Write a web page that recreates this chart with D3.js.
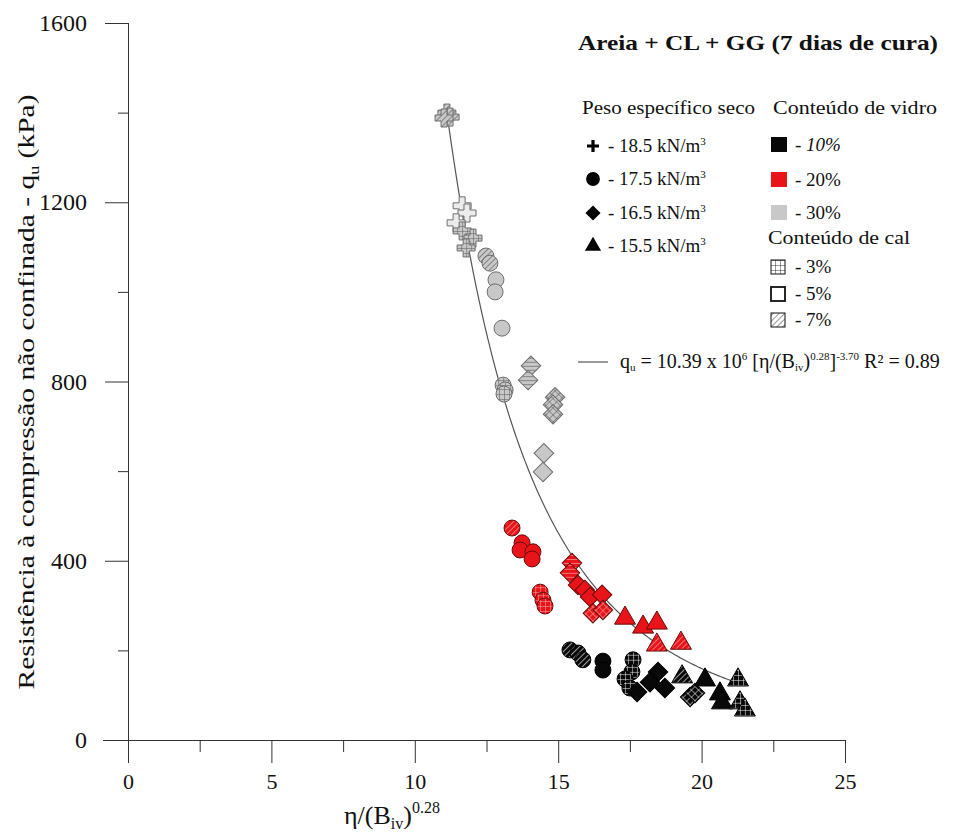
<html>
<head>
<meta charset="utf-8">
<title>qu x eta/Biv</title>
<script src="https://cdnjs.cloudflare.com/ajax/libs/d3/7.8.5/d3.min.js"></script>
<style>
  body { margin: 0; background: #fff; }
  svg text { font-family: "Liberation Serif", "Times New Roman", "DejaVu Serif", serif; }
</style>
</head>
<body>
<svg width="960" height="832"></svg>
<script>
// ticks
var xMajor = [0, 5, 10, 15, 20, 25];
var xMinor = [2.5, 7.5, 12.5, 17.5, 22.5];
var yMajor = [0, 400, 800, 1200, 1600];
var yMinor = [200, 600, 1000, 1400];

// fit: qu = A * x^B
var fitA = 10.39e6, fitB = -3.70;
var fitRange = [11.1, 21.5];

// points [eta/Biv^0.28, qu]  name = density_glass_lime
var cross30_7 = [[11.12, 1399], [11.23, 1390], [11.02, 1388]];
var cross30_5 = [[11.65, 1192], [11.82, 1176], [11.44, 1154]];
var cross30_3 = [[11.65, 1136], [12.03, 1120], [11.79, 1098]];

var circ30_7 = [[12.48, 1080], [12.62, 1064]];
var circ30_5 = [[12.83, 1027], [12.80, 1000], [13.04, 919]];
var circ30_3 = [[13.08, 792], [13.15, 781], [13.11, 772]];

var diam30_7 = [[14.05, 835], [13.95, 803]];
var diam30_3 = [[14.89, 765], [14.82, 748], [14.82, 727]];
var diam30_5 = [[14.50, 640], [14.47, 598]];

var circ20_7 = [[13.39, 473]];
var circ20_5 = [[13.74, 440], [13.67, 424], [14.12, 420], [14.09, 404]];
var circ20_3 = [[14.37, 330], [14.47, 312], [14.54, 299]];

var diam20_7 = [[15.48, 395], [15.41, 373]];
var diam20_5 = [[15.69, 346], [15.93, 335], [16.11, 319], [16.53, 324]];
var diam20_3 = [[16.21, 283], [16.56, 290]];

var tri20_5 = [[17.33, 272], [17.96, 252], [18.44, 261]];
var tri20_7 = [[18.44, 212], [19.28, 216]];

var circ10_7 = [[15.41, 201], [15.69, 194], [15.86, 179]];
var circ10_5 = [[16.56, 176], [16.56, 156]];
var circ10_3 = [[17.61, 179], [17.57, 152], [17.33, 136], [17.50, 116]];

var diam10_5 = [[18.48, 152], [18.20, 129], [18.72, 116], [17.75, 107]];
var diam10_3 = [[19.60, 96], [19.77, 105]];

var tri10_7 = [[19.32, 141]];
var tri10_5 = [[20.12, 134], [20.64, 103], [20.71, 83]];
var tri10_3 = [[21.27, 134], [21.34, 83], [21.51, 67]];

var series = [
  ["cross", "grey", "hatch", cross30_7], ["cross", "grey", "plain", cross30_5], ["cross", "grey", "grid", cross30_3],
  ["circle", "grey", "hatch", circ30_7], ["circle", "grey", "plain", circ30_5], ["circle", "grey", "grid", circ30_3],
  ["diamond", "grey", "hatch", diam30_7], ["diamond", "grey", "grid", diam30_3], ["diamond", "grey", "plain", diam30_5],
  ["circle", "red", "hatch", circ20_7], ["circle", "red", "plain", circ20_5], ["circle", "red", "grid", circ20_3],
  ["diamond", "red", "hatch", diam20_7], ["diamond", "red", "plain", diam20_5], ["diamond", "red", "grid", diam20_3],
  ["triangle", "red", "plain", tri20_5], ["triangle", "red", "hatch", tri20_7],
  ["circle", "black", "hatch", circ10_7], ["circle", "black", "plain", circ10_5], ["circle", "black", "grid", circ10_3],
  ["diamond", "black", "plain", diam10_5], ["diamond", "black", "grid", diam10_3],
  ["triangle", "black", "hatch", tri10_7], ["triangle", "black", "plain", tri10_5], ["triangle", "black", "grid", tri10_3]
];

var fills = { black: "#080808", red: "#e8141a", grey: "#c8c8c8" };
var strokes = { black: "#000", red: "#6a0a0a", grey: "#6e6e6e" };
var lines = { black: "#ffffff", red: "#ffb0b0", grey: "#555" };
var serif = "'Liberation Serif', 'Times New Roman', 'DejaVu Serif', serif";

var svg = d3.select("svg");
var x = d3.scaleLinear().domain([0, 25]).range([128, 845]);
var y = d3.scaleLinear().domain([0, 1600]).range([740, 23]);

// patterns
var defs = svg.append("defs");
Object.keys(fills).forEach(function(c) {
  var g = defs.append("pattern").attr("id", "grid-" + c)
    .attr("patternUnits", "userSpaceOnUse").attr("width", 5).attr("height", 5);
  g.append("rect").attr("width", 5).attr("height", 5).attr("fill", fills[c]);
  g.append("path").attr("d", "M0,0V5M0,0H5").attr("stroke", lines[c]).attr("stroke-width", 1);
  var h = defs.append("pattern").attr("id", "hatch-" + c)
    .attr("patternUnits", "userSpaceOnUse").attr("width", 4).attr("height", 4)
    .attr("patternTransform", "rotate(45)");
  h.append("rect").attr("width", 4).attr("height", 4).attr("fill", fills[c]);
  h.append("path").attr("d", "M0,0V4").attr("stroke", lines[c]).attr("stroke-width", 1.2);
});
var lg = defs.append("pattern").attr("id", "leg-grid")
  .attr("patternUnits", "userSpaceOnUse").attr("width", 5).attr("height", 5);
lg.append("rect").attr("width", 5).attr("height", 5).attr("fill", "#fff");
lg.append("path").attr("d", "M0,0V5M0,0H5").attr("stroke", "#333").attr("stroke-width", 1);
var lh = defs.append("pattern").attr("id", "leg-hatch")
  .attr("patternUnits", "userSpaceOnUse").attr("width", 4).attr("height", 4)
  .attr("patternTransform", "rotate(45)");
lh.append("rect").attr("width", 4).attr("height", 4).attr("fill", "#fff");
lh.append("path").attr("d", "M0,0V4").attr("stroke", "#333").attr("stroke-width", 1);

function fillOf(color, lime) {
  if (lime == "plain") return fills[color];
  return "url(#" + lime + "-" + color + ")";
}

function shapePath(shape, s) {
  if (shape == "circle") return d3.symbol().type(d3.symbolCircle).size(200 * s)();
  if (shape == "diamond") return d3.symbol().type(d3.symbolSquare).size(190 * s)();
  if (shape == "triangle") return d3.symbol().type(d3.symbolTriangle).size(190 * s)();
  // outlined plus
  var a = 9 * Math.sqrt(s), b = 3 * Math.sqrt(s);
  return "M" + (-b) + "," + (-a) + "H" + b + "V" + (-b) + "H" + a + "V" + b + "H" + b + "V" + a +
    "H" + (-b) + "V" + b + "H" + (-a) + "V" + (-b) + "H" + (-b) + "Z";
}

// axes
var axisG = svg.append("g").attr("stroke", "#333").attr("fill", "none");
axisG.append("line").attr("x1", 103).attr("x2", x(25)).attr("y1", y(0) + 0.5).attr("y2", y(0) + 0.5);
axisG.append("line").attr("x1", x(0) + 0.5).attr("x2", x(0) + 0.5).attr("y1", y(1600)).attr("y2", 755);

var xAxis = d3.axisBottom(x).tickValues(xMajor).tickSize(23).tickPadding(10).tickFormat(d3.format("d"));
var gx = svg.append("g").attr("transform", "translate(0," + y(0) + ")").call(xAxis);
var xAxisMinor = d3.axisBottom(x).tickValues(xMinor).tickSize(12).tickFormat("");
var gx2 = svg.append("g").attr("transform", "translate(0," + y(0) + ")").call(xAxisMinor);

var yAxis = d3.axisLeft(y).tickValues(yMajor).tickSize(23).tickPadding(18).tickFormat(d3.format("d"));
var gy = svg.append("g").attr("transform", "translate(" + x(0) + ",0)").call(yAxis);
var yAxisMinor = d3.axisLeft(y).tickValues(yMinor).tickSize(10).tickFormat("");
var gy2 = svg.append("g").attr("transform", "translate(" + x(0) + ",0)").call(yAxisMinor);

[gx, gx2, gy, gy2].forEach(function(g) {
  g.attr("font-family", serif);
  g.select(".domain").remove();
  g.selectAll(".tick line").attr("stroke", "#333");
  g.selectAll("text").attr("font-size", 22).attr("fill", "#111");
});
gy.selectAll("text").attr("font-size", 24).attr("textLength", function(d) { return String(d).length * 12; });
gy.selectAll(".tick line").filter(function(d) { return d == 0; }).attr("x2", -24);

// axis titles
var xt = svg.append("text").attr("x", 392).attr("y", 824).attr("text-anchor", "middle")
  .attr("font-size", 26).attr("fill", "#111");
xt.append("tspan").text("η/(B");
xt.append("tspan").attr("font-size", 16).attr("dy", 5).text("iv");
xt.append("tspan").attr("dy", -5).text(")");
xt.append("tspan").attr("font-size", 16).attr("dy", -11).text("0.28");

var yt = svg.append("text").attr("transform", "translate(34,392) rotate(-90)")
  .attr("text-anchor", "middle").attr("font-size", 23).attr("fill", "#111")
  .attr("textLength", 595).attr("lengthAdjust", "spacingAndGlyphs");
yt.append("tspan").text("Resistência à compressão não confinada - q");
yt.append("tspan").attr("font-size", 14).attr("dy", 5).text("u");
yt.append("tspan").attr("dy", -5).text("  (kPa)");

// fit curve
var fitX = d3.range(fitRange[0], fitRange[1] + 0.001, 0.05);
svg.append("path")
  .datum(fitX)
  .attr("fill", "none").attr("stroke", "#555").attr("stroke-width", 1.2)
  .attr("d", d3.line().x(function(d) { return x(d); }).y(function(d) { return y(fitA * Math.pow(d, fitB)); }));

// points
series.forEach(function(s) {
  svg.append("g").selectAll("path")
    .data(s[3])
    .enter()
    .append("path")
    .attr("d", shapePath(s[0], 1))
    .attr("transform", function(d) {
      return "translate(" + x(d[0]) + "," + y(d[1]) + ")" + (s[0] == "diamond" ? " rotate(45)" : "");
    })
    .attr("fill", s[0] == "cross" ? (s[2] == "plain" ? "#ececec" : "url(#" + s[2] + "-grey)") : fillOf(s[1], s[2]))
    .attr("stroke", strokes[s[1]])
    .attr("stroke-width", 1);
});

// title
svg.append("text").attr("x", 578).attr("y", 50)
  .attr("font-size", 22).attr("font-weight", "bold").attr("fill", "#111")
  .attr("textLength", 360).attr("lengthAdjust", "spacingAndGlyphs")
  .text("Areia + CL + GG (7 dias de cura)");

// legend: density
var dens = [["cross", "18.5"], ["circle", "17.5"], ["diamond", "16.5"], ["triangle", "15.5"]];
var densY = [146, 179, 213, 246];
svg.append("text").attr("x", 582).attr("y", 114).attr("font-size", 19).attr("fill", "#111")
  .attr("textLength", 173).attr("lengthAdjust", "spacingAndGlyphs").text("Peso específico seco");
dens.forEach(function(d, i) {
  var p = svg.append("path").attr("fill", "#000")
    .attr("transform", "translate(593," + densY[i] + ")" + (d[0] == "diamond" ? " rotate(45)" : ""));
  if (d[0] == "cross") p.attr("d", "M-6,-1.6H6V1.6H-6ZM-1.6,-6H1.6V6H-1.6Z");
  else p.attr("d", shapePath(d[0], d[0] == "circle" ? 0.75 : 0.6));
  var t = svg.append("text").attr("x", 608).attr("y", densY[i] + 6).attr("font-size", 19).attr("fill", "#111");
  t.append("tspan").text("- " + d[1] + " kN/m");
  t.append("tspan").attr("font-size", 11).attr("dy", -7).text("3");
});

// legend: glass
var glass = [["black", "10%"], ["red", "20%"], ["grey", "30%"]];
var glassY = [145, 180, 213];
svg.append("text").attr("x", 773).attr("y", 114).attr("font-size", 19).attr("fill", "#111")
  .attr("textLength", 164).attr("lengthAdjust", "spacingAndGlyphs").text("Conteúdo de vidro");
glass.forEach(function(g, i) {
  svg.append("rect").attr("x", 771).attr("y", glassY[i] - 8).attr("width", 16).attr("height", 15)
    .attr("fill", fills[g[0]]);
  svg.append("text").attr("x", 795).attr("y", glassY[i] + 6).attr("font-size", 19).attr("fill", "#111")
    .attr("font-style", i == 0 ? "italic" : "normal")
    .text("- " + g[1]);
});

// legend: lime
var lime = [["grid", "3%"], ["plain", "5%"], ["hatch", "7%"]];
var limeY = [267, 294, 320];
svg.append("text").attr("x", 768).attr("y", 244).attr("font-size", 19).attr("fill", "#111")
  .attr("textLength", 142).attr("lengthAdjust", "spacingAndGlyphs").text("Conteúdo de cal");
lime.forEach(function(l, i) {
  svg.append("rect").attr("x", 771).attr("y", limeY[i] - 7).attr("width", 14).attr("height", 14)
    .attr("fill", l[0] == "plain" ? "#fff" : "url(#leg-" + l[0] + ")")
    .attr("stroke", "#111").attr("stroke-width", l[0] == "plain" ? 1.8 : 1);
  svg.append("text").attr("x", 795).attr("y", limeY[i] + 6).attr("font-size", 19).attr("fill", "#111")
    .text("- " + l[1]);
});

// legend: fit
svg.append("line").attr("x1", 578).attr("x2", 608).attr("y1", 362).attr("y2", 362)
  .attr("stroke", "#555").attr("stroke-width", 1.2);
var eq = svg.append("text").attr("x", 620).attr("y", 368).attr("font-size", 20).attr("fill", "#111");
eq.append("tspan").text("q");
eq.append("tspan").attr("font-size", 11).attr("dy", 3).text("u");
eq.append("tspan").attr("dy", -3).text(" = 10.39 x 10");
eq.append("tspan").attr("font-size", 11).attr("dy", -8).text("6");
eq.append("tspan").attr("dy", 8).text(" [η/(B");
eq.append("tspan").attr("font-size", 11).attr("dy", 3).text("iv");
eq.append("tspan").attr("dy", -3).text(")");
eq.append("tspan").attr("font-size", 11).attr("dy", -8).text("0.28");
eq.append("tspan").attr("dy", 8).text("]");
eq.append("tspan").attr("font-size", 11).attr("dy", -8).text("-3.70");
eq.append("tspan").attr("dy", 8).text("   R² = 0.89");
</script>
</body>
</html>
